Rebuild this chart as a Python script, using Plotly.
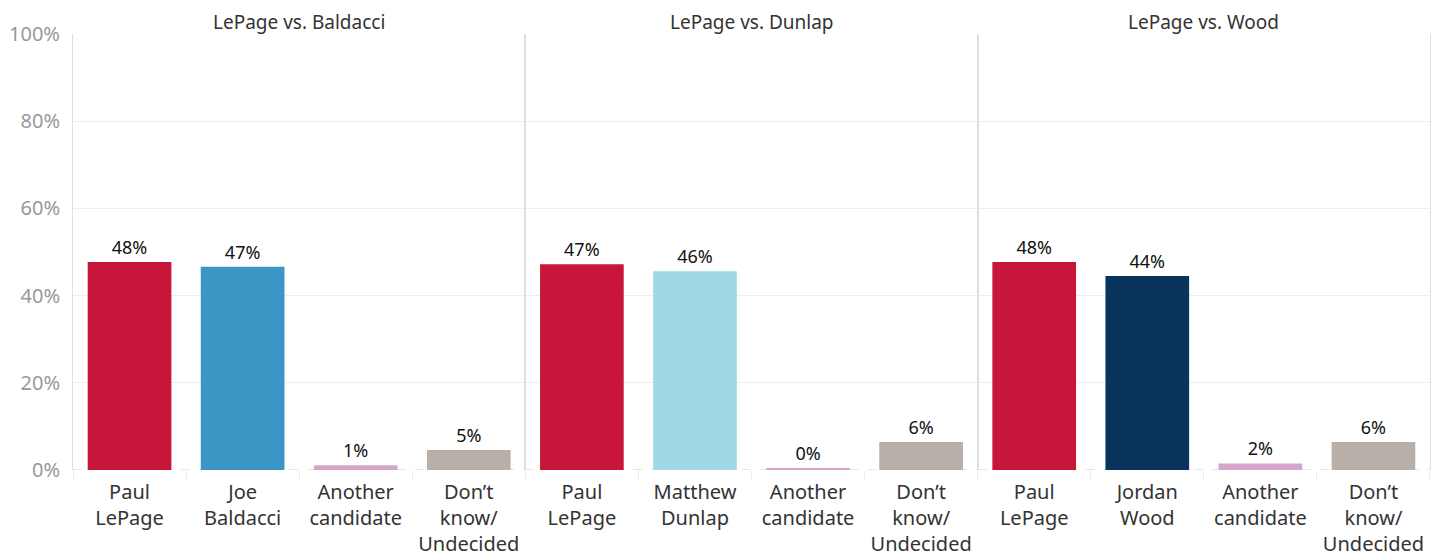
import plotly.graph_objects as go
from plotly.subplots import make_subplots

panel_titles = ["LePage vs. Baldacci", "LePage vs. Dunlap", "LePage vs. Wood"]
categories = [
    ["Paul<br>LePage", "Joe<br>Baldacci", "Another<br>candidate", "Don’t<br>know/<br>Undecided"],
    ["Paul<br>LePage", "Matthew<br>Dunlap", "Another<br>candidate", "Don’t<br>know/<br>Undecided"],
    ["Paul<br>LePage", "Jordan<br>Wood", "Another<br>candidate", "Don’t<br>know/<br>Undecided"],
]
values = [
    [47.7, 46.6, 1.1, 4.6],
    [47.2, 45.6, 0.3, 6.4],
    [47.7, 44.5, 1.5, 6.4],
]
value_labels = [
    ["48%", "47%", "1%", "5%"],
    ["47%", "46%", "0%", "6%"],
    ["48%", "44%", "2%", "6%"],
]
colors = [
    ["#C8163B", "#3A96C4", "#D5A6C9", "#B9AFA9"],
    ["#C8163B", "#9FD9E4", "#D5A6C9", "#B9AFA9"],
    ["#C8163B", "#08345E", "#D5A6C9", "#B9AFA9"],
]
y_ticks = [0, 20, 40, 60, 80, 100]
y_tick_text = ["0%", "20%", "40%", "60%", "80%", "100%"]

FONT = "Noto Sans"

fig = make_subplots(rows=1, cols=3, horizontal_spacing=0, subplot_titles=panel_titles)

for i in range(3):
    fig.add_trace(
        go.Bar(
            x=categories[i],
            y=values[i],
            marker=dict(color=colors[i], line=dict(width=0)),
            text=value_labels[i],
            textposition="outside",
            textfont=dict(family=FONT, size=18, color="#111111"),
            cliponaxis=False,
            hoverinfo="skip",
            showlegend=False,
        ),
        row=1, col=i + 1,
    )
    fig.update_xaxes(
        row=1, col=i + 1,
        automargin=False,
        showgrid=False,
        zeroline=False,
        showline=False,
        ticks="outside",
        tickson="boundaries",
        ticklen=10,
        tickcolor="#EBEBEB",
        tickwidth=1,
        tickfont=dict(family=FONT, size=20, color="#333333"),
        tickangle=0,
        ticklabelstandoff=8,
    )
    fig.update_yaxes(
        row=1, col=i + 1,
        automargin=False,
        range=[0, 100],
        tickvals=y_ticks,
        ticktext=y_tick_text,
        showticklabels=(i == 0),
        showgrid=True,
        gridcolor="#EEEEEE",
        gridwidth=1,
        zeroline=False,
        showline=True,
        linecolor="#E0E0E0",
        linewidth=1,
        mirror=True,
        ticks="",
        tickfont=dict(family=FONT, size=20, color="#999999"),
        ticklabelstandoff=8,
    )
    fig.add_shape(
        type="line", xref="x domain" if i == 0 else f"x{i+1} domain",
        yref="y" if i == 0 else f"y{i+1}",
        x0=0, x1=1, y0=0, y1=0,
        layer="below",
        line=dict(color="#CCCCCC", width=1, dash="dash"),
    )

fig.update_layout(
    width=1434, height=552,
    margin=dict(l=65, r=12, t=26, b=90),
    plot_bgcolor="white",
    paper_bgcolor="white",
    bargap=0.26,
    font=dict(family=FONT, color="#333333"),
)
for ann in fig.layout.annotations:
    ann.font = dict(family=FONT, size=19, color="#333333")
    ann.yshift = -3

fig.write_html("out.html")
